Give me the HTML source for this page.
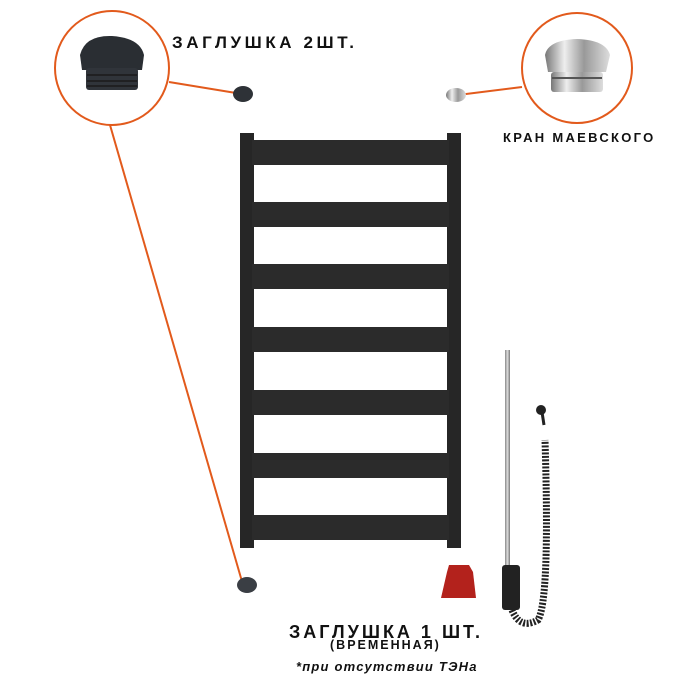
<!DOCTYPE html>
<html><head><meta charset="utf-8"><style>
body{margin:0;background:#fff;width:700px;height:700px;overflow:hidden;position:relative;font-family:"Liberation Sans",sans-serif}
.t{position:absolute;font-weight:bold;color:#111;white-space:nowrap;line-height:1}
</style></head><body>
<svg width="700" height="700" style="position:absolute;left:0;top:0">
<defs>
<linearGradient id="chr" x1="0" x2="1"><stop offset="0" stop-color="#777"/><stop offset=".3" stop-color="#eee"/><stop offset=".6" stop-color="#999"/><stop offset="1" stop-color="#ddd"/></linearGradient>
<linearGradient id="rod" x1="0" x2="1"><stop offset="0" stop-color="#888"/><stop offset=".5" stop-color="#ddd"/><stop offset="1" stop-color="#777"/></linearGradient>
</defs>
<rect x="240" y="133" width="14" height="415" fill="#262626"/>
<rect x="447" y="133" width="14" height="415" fill="#262626"/>
<g fill="#2b2b2b">
<rect x="252" y="140" width="197" height="25"/>
<rect x="252" y="202" width="197" height="25"/>
<rect x="252" y="264" width="197" height="25"/>
<rect x="252" y="327" width="197" height="25"/>
<rect x="252" y="390" width="197" height="25"/>
<rect x="252" y="453" width="197" height="25"/>
<rect x="252" y="515" width="197" height="25"/>
</g>
<g stroke="#e25a1c" stroke-width="2" fill="none">
<circle cx="112" cy="68" r="57"/>
<circle cx="577" cy="68" r="55"/>
<line x1="169" y1="82" x2="236" y2="93"/>
<line x1="110" y1="125" x2="243" y2="585"/>
<line x1="458" y1="95" x2="522" y2="87"/>
</g>
<path d="M80 55 Q85 35 112 36 Q140 38 144 55 L142 70 L82 70 Z" fill="#2a2e33"/>
<rect x="86" y="68" width="52" height="22" rx="3" fill="#30343a"/>
<g stroke="#1a1a1a" stroke-width="1.5"><line x1="87" y1="75" x2="137" y2="75"/><line x1="87" y1="81" x2="137" y2="81"/><line x1="87" y1="86" x2="137" y2="86"/></g>
<ellipse cx="243" cy="94" rx="10" ry="8" fill="#2e3237"/>
<ellipse cx="247" cy="585" rx="10" ry="8" fill="#3a3e44"/>
<path d="M545 55 Q548 40 577 39 Q606 40 610 55 L606 72 L548 72 Z" fill="url(#chr)"/>
<rect x="551" y="72" width="52" height="20" rx="3" fill="url(#chr)"/>
<line x1="552" y1="78" x2="602" y2="78" stroke="#555" stroke-width="2"/>
<ellipse cx="456" cy="95" rx="10" ry="7" fill="url(#chr)"/>
<path d="M447 572 L449 565 L469 565 L473 572 L476 598 L441 598 Z" fill="#b3221c"/>
<rect x="505" y="350" width="5" height="215" fill="url(#rod)"/>
<rect x="502" y="565" width="18" height="45" rx="3" fill="#222"/>
<path d="M512 610 Q520 630 538 620 Q550 600 545 440" stroke="#222" stroke-width="7" fill="none" stroke-dasharray="2 1.5"/>
<circle cx="541" cy="410" r="5" fill="#222"/><line x1="542" y1="412" x2="544" y2="425" stroke="#222" stroke-width="3"/>
</svg>
<div class="t" style="left:172px;top:34px;font-size:17px;letter-spacing:3.6px">ЗАГЛУШКА 2ШТ.</div>
<div class="t" style="left:503px;top:131px;font-size:13px;letter-spacing:2.3px">КРАН МАЕВСКОГО</div>
<div class="t" style="left:289px;top:623px;font-size:18px;letter-spacing:3px">ЗАГЛУШКА 1 ШТ.</div>
<div class="t" style="left:330px;top:639px;font-size:12.5px;letter-spacing:2px">(ВРЕМЕННАЯ)</div>
<div class="t" style="left:296px;top:660px;font-size:13px;font-style:italic;letter-spacing:1.2px">*при отсутствии ТЭНа</div>
</body></html>
